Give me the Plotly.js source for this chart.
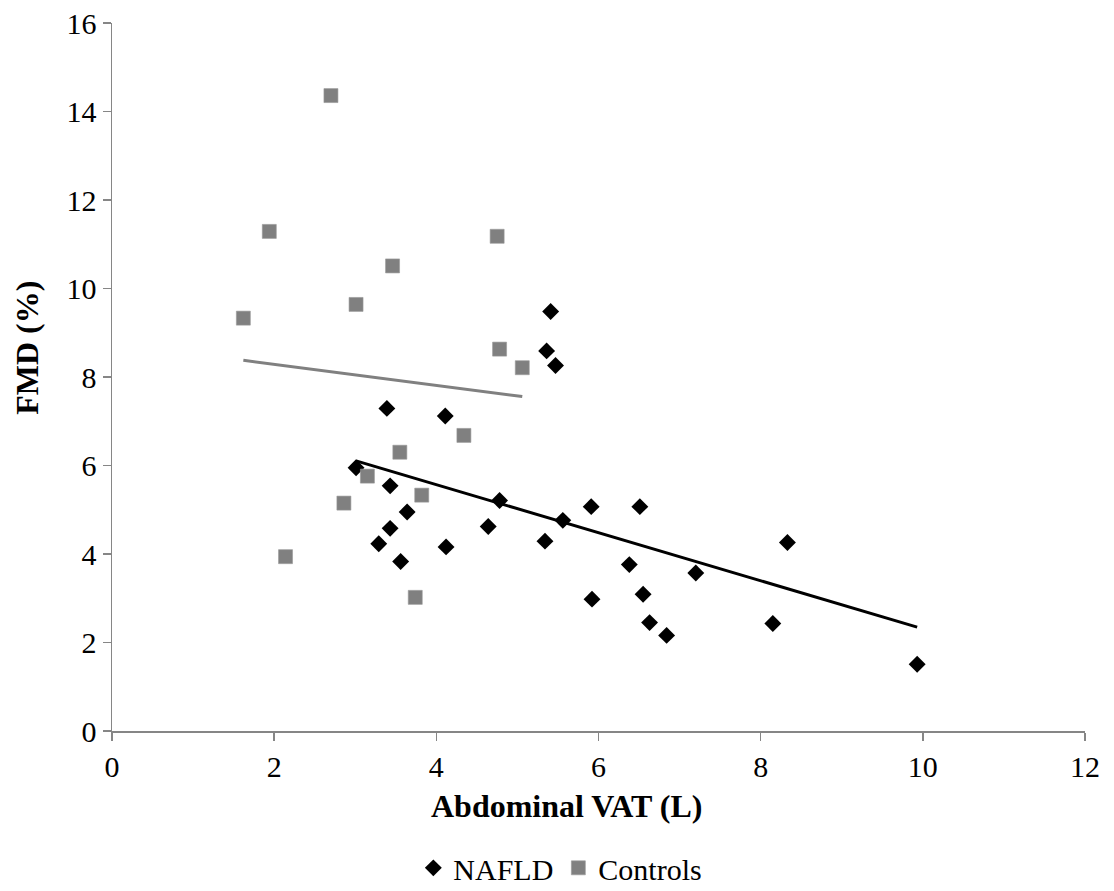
<!DOCTYPE html>
<html>
<head>
<meta charset="utf-8">
<script src="https://cdn.plot.ly/plotly-3.0.1.min.js"></script>
<style>
  html, body { margin: 0; padding: 0; background: #ffffff; }
  #chart { width: 1114px; height: 891px; }
</style>
</head>
<body>
<div id="chart"></div>
<script>
// NAFLD group: abdominal VAT (L) and FMD (%)
var nafldVAT = [5.41, 5.36, 5.47, 3.39, 4.11, 3.01, 3.43, 4.78, 5.91, 3.64, 5.56, 3.43, 4.64, 3.29,
                4.12, 5.34, 3.56, 5.92, 6.51, 8.33, 6.38, 7.20, 6.55, 6.63, 6.84, 8.15, 9.93];
var nafldFMD = [9.48, 8.59, 8.26, 7.29, 7.12, 5.95, 5.54, 5.21, 5.07, 4.95, 4.76, 4.58, 4.62, 4.23,
                4.16, 4.29, 3.83, 2.98, 5.07, 4.26, 3.76, 3.57, 3.09, 2.45, 2.16, 2.43, 1.51];

// Controls group
var controlsVAT = [1.62, 1.94, 2.70, 3.46, 3.01, 4.75, 4.78, 5.06, 4.34, 3.55, 3.15, 3.82, 2.86, 2.14, 3.74];
var controlsFMD = [9.33, 11.29, 14.36, 10.51, 9.64, 11.18, 8.63, 8.21, 6.68, 6.30, 5.76, 5.33, 5.15, 3.94, 3.02];

var seriesNames = ["NAFLD", "Controls"];
var xTitle = "Abdominal VAT (L)";
var yTitle = "FMD (%)";

function linearFit(xs, ys) {
  var n = xs.length, mx = 0, my = 0;
  for (var i = 0; i < n; i++) { mx += xs[i]; my += ys[i]; }
  mx /= n; my /= n;
  var sxy = 0, sxx = 0;
  for (var j = 0; j < n; j++) { sxy += (xs[j] - mx) * (ys[j] - my); sxx += (xs[j] - mx) * (xs[j] - mx); }
  var b = sxy / sxx, a = my - b * mx;
  var x0 = Math.min.apply(null, xs), x1 = Math.max.apply(null, xs);
  return { x: [x0, x1], y: [a + b * x0, a + b * x1] };
}

var fitN = linearFit(nafldVAT, nafldFMD);
var fitC = linearFit(controlsVAT, controlsFMD);

var FONT = "Liberation Serif";
var AXIS_GRAY = "#868686";

var traces = [
  { x: fitC.x, y: fitC.y, mode: "lines", showlegend: false, hoverinfo: "skip",
    line: { color: "#808080", width: 3 } },
  { x: fitN.x, y: fitN.y, mode: "lines", showlegend: false, hoverinfo: "skip",
    line: { color: "#000000", width: 3 } },
  { x: nafldVAT, y: nafldFMD, mode: "markers", type: "scatter", name: seriesNames[0],
    marker: { symbol: "diamond", size: 13, color: "#000000", line: { width: 0 } } },
  { x: controlsVAT, y: controlsFMD, mode: "markers", type: "scatter", name: seriesNames[1],
    marker: { symbol: "square", size: 14, color: "#808080", line: { width: 0.6, color: "#999999" } } }
];

var layout = {
  width: 1114, height: 891,
  paper_bgcolor: "#ffffff", plot_bgcolor: "#ffffff",
  margin: { l: 112, r: 29, t: 23, b: 160, pad: 0 },
  font: { family: FONT, size: 30, color: "#000000" },
  showlegend: true,
  legend: {
    orientation: "h", xref: "container", yref: "container",
    x: 0.503, xanchor: "center", y: 0.026, yanchor: "middle",
    font: { family: FONT, size: 30, color: "#000000" },
    itemwidth: 30, tracegroupgap: 0, borderwidth: 0
  },
  xaxis: {
    range: [0, 12], dtick: 2, tick0: 0,
    showgrid: false, zeroline: false,
    showline: true, linecolor: AXIS_GRAY, linewidth: 1.5,
    ticks: "outside", ticklen: 8, tickwidth: 1.5, tickcolor: AXIS_GRAY,
    tickfont: { family: FONT, size: 30, color: "#000000" },
    automargin: false
  },
  yaxis: {
    range: [0, 16], dtick: 2, tick0: 0,
    showgrid: false, zeroline: false,
    showline: true, linecolor: AXIS_GRAY, linewidth: 1.5,
    ticks: "outside", ticklen: 8, tickwidth: 1.5, tickcolor: AXIS_GRAY,
    tickfont: { family: FONT, size: 30, color: "#000000" },
    automargin: false
  },
  annotations: [
    { text: xTitle, xref: "paper", yref: "paper", x: 0.4676, y: -0.1064,
      xanchor: "center", yanchor: "middle", showarrow: false,
      font: { family: FONT, size: 32, weight: "bold", color: "#000000" } },
    { text: yTitle, xref: "paper", yref: "paper", x: -0.0868, y: 0.5405, textangle: -90,
      xanchor: "center", yanchor: "middle", showarrow: false,
      font: { family: FONT, size: 32, weight: "bold", color: "#000000" } }
  ]
};

Plotly.newPlot("chart", traces, layout, { displayModeBar: false, staticPlot: true });
</script>
</body>
</html>
